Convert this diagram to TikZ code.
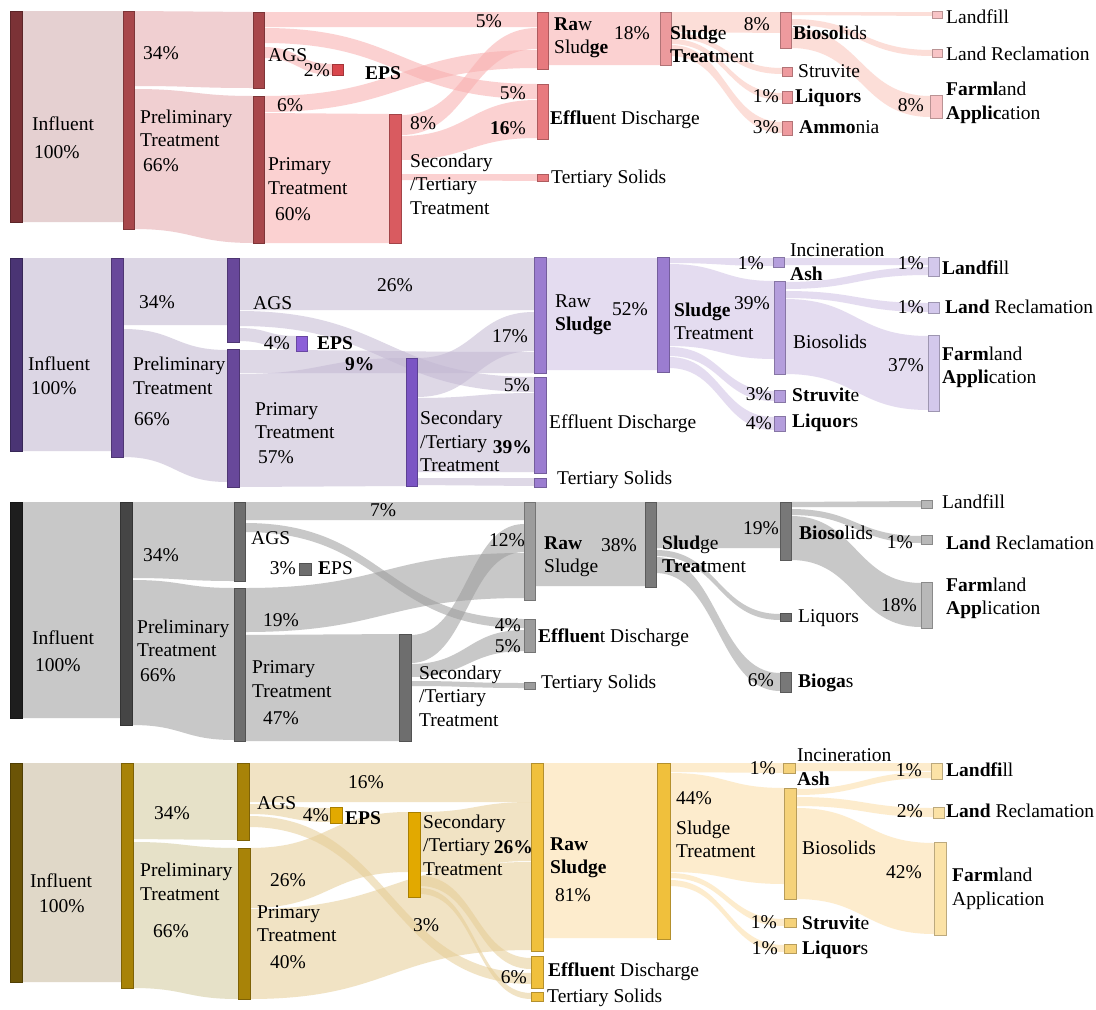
\documentclass[tikz,border=0pt]{standalone}
\usepackage{fontspec}
\setmainfont{Liberation Serif}
\newfontfamily\lserif{Liberation Serif}
\newcommand\fs{\lserif\fontsize{19.5}{23.5}\selectfont}
% red
\definecolor{rInf}{HTML}{7B3236}\definecolor{rPre}{HTML}{A8474B}\definecolor{rSec}{HTML}{D95B60}
\definecolor{rEps}{HTML}{D9464C}\definecolor{rRaw}{HTML}{E87A7E}\definecolor{rST}{HTML}{EC9A9D}
\definecolor{rBio}{HTML}{EE9A9E}\definecolor{rFin}{HTML}{F8C4C6}
\definecolor{rF0}{HTML}{D1AAAC}\definecolor{rF1}{HTML}{E4A8AC}\definecolor{rF2}{HTML}{F9ADAD}\definecolor{rF3}{HTML}{FBC3B8}
% purple
\definecolor{pInf}{HTML}{4A3474}\definecolor{pPre}{HTML}{68489A}\definecolor{pSec}{HTML}{7B55C4}
\definecolor{pEps}{HTML}{8C5FD8}\definecolor{pRaw}{HTML}{9B7DD0}\definecolor{pBio}{HTML}{B49EDC}
\definecolor{pFin}{HTML}{D3C8EC}
\definecolor{pF0}{HTML}{C0B5CF}\definecolor{pF1}{HTML}{C3B8D3}\definecolor{pF2}{HTML}{CFC0E4}
% gray
\definecolor{gInf}{HTML}{1E1E1E}\definecolor{gPre}{HTML}{454545}\definecolor{gMid}{HTML}{6E6E6E}
\definecolor{gRaw}{HTML}{9C9C9C}\definecolor{gST}{HTML}{7A7A7A}\definecolor{gBio}{HTML}{787878}
\definecolor{gFin}{HTML}{B8B8B8}\definecolor{gF}{HTML}{9B9B9B}
% gold
\definecolor{yInf}{HTML}{6B5406}\definecolor{yPre}{HTML}{A88308}\definecolor{ySec}{HTML}{E2A900}
\definecolor{yRaw}{HTML}{F0C03C}\definecolor{yBio}{HTML}{F5D27A}\definecolor{yFin}{HTML}{FBE2A6}
\definecolor{yF0}{HTML}{C7B89B}\definecolor{yF1}{HTML}{D2C99B}\definecolor{yF2}{HTML}{E6CC94}\definecolor{yF3}{HTML}{FCDDA5}

\tikzset{
  fa/.style={fill=#1, fill opacity=0.55},
  sbarst/.style={anchor=north west, inner sep=0pt, outer sep=0pt, line width=0.5pt},
  lb/.style={anchor=west, inner sep=0pt, font=\fs, align=left, text=black},
  rb/.style={anchor=east, inner sep=0pt, font=\fs, align=right, text=black}
}
% flow band: style, x1, y1top, y1bot, x2, y2top, y2bot
\newcommand\sflow[7]{%
  \fill[#1] (#2,#3) .. controls ({(#2+#5)/2},#3) and ({(#2+#5)/2},#6) .. (#5,#6)
    -- (#5,#7) .. controls ({(#2+#5)/2},#7) and ({(#2+#5)/2},#4) .. (#2,#4) -- cycle;}
% bar: name, x1, y1, x2, y2, colour
\newcommand\sbar[6]{\node[sbarst, fill=#6, draw=#6!75!black,
  minimum width={(#4-#2)*1pt}, minimum height={(#5-#3)*1pt}] (#1) at (#2,#3) {};}
\newcommand\lbl[4]{\node[lb] (#1) at (#2,#3) {#4};}
\newcommand\rbl[4]{\node[rb] (#1) at (#2,#3) {#4};}

\begin{document}
\begin{tikzpicture}[x=1pt, y=-1pt]
\fill[white] (0,0) rectangle (1096,1010);
\useasboundingbox (0,0) rectangle (1096,1010);

%================ PANEL 1 (red) ================
\sflow{fa=rF0}{22}{11}{222}{123}{11}{222}
\sflow{fa=rF1}{134}{11}{86}{253}{12}{88}
\sflow{fa=rF1}{134}{89}{229}{253}{96}{243}
\sflow{fa=rF2}{264}{12}{27}{537}{12}{27}
\sflow{fa=rF2}{264}{28}{43}{537}{84}{99}
\sflow{fa=rF2}{264}{47}{58}{332}{64}{75}
\sflow{fa=rF2}{264}{96}{112}{537}{50}{68}
\sflow{fa=rF2}{264}{113}{243}{389}{114}{243}
\sflow{fa=rF2}{401}{115}{135}{537}{28}{49}
\sflow{fa=rF2}{401}{136}{160}{537}{100}{138}
\sflow{fa=rF2}{401}{174}{180}{537}{174}{181}
\sflow{fa=rF2}{548}{12}{65}{660}{12}{65}
\sflow{fa=rF3}{671}{12}{32}{780}{12}{33}
\sflow{fa=rF3}{671}{33}{38}{782}{68}{74}
\sflow{fa=rF3}{671}{39}{44}{782}{93}{100}
\sflow{fa=rF3}{671}{45}{56}{782}{122}{133}
\sflow{fa=rF3}{791}{12}{15}{932}{12}{16}
\sflow{fa=rF3}{791}{19}{25}{932}{50}{56}
\sflow{fa=rF3}{791}{28}{48}{930}{96}{117}

\sbar{rinf}{10}{11}{22}{222}{rInf}
\sbar{rpre}{123}{11}{134}{229}{rPre}
\sbar{rags}{253}{12}{264}{88}{rPre}
\sbar{reps}{332}{64}{343}{75}{rEps}
\sbar{rpri}{253}{96}{264}{243}{rPre}
\sbar{rsec}{389}{114}{401}{243}{rSec}
\sbar{rraw}{537}{12}{548}{69}{rRaw}
\sbar{reff}{537}{84}{548}{139}{rRaw}
\sbar{rter}{537}{174}{548}{181}{rRaw}
\sbar{rst}{660}{12}{671}{65}{rST}
\sbar{rbio}{780}{12}{791}{48}{rBio}
\sbar{rstr}{782}{67}{792}{76}{rBio}
\sbar{rliq}{782}{91}{792}{103}{rBio}
\sbar{ramm}{782}{121}{792}{135}{rBio}
\sbar{rlf}{932}{11}{942}{18}{rFin}
\sbar{rlr}{932}{49}{942}{57}{rFin}
\sbar{rfa}{930}{95}{942}{118}{rFin}

\lbl{ra1}{32}{124}{Influent}
\lbl{ra2}{34}{152}{100\%}
\lbl{ra3}{143}{53}{34\%}
\lbl{ra4}{140}{128.5}{Preliminary\\Treatment}
\lbl{ra5}{143}{165}{66\%}
\lbl{ra6}{268}{55}{AGS}
\rbl{ra7}{330}{70}{2\%}
\lbl{ra8}{365}{73}{\textbf{EPS}}
\lbl{ra9}{277}{105}{6\%}
\lbl{ra10}{268}{176}{Primary\\Treatment}
\lbl{ra11}{275}{214}{60\%}
\lbl{ra12}{410}{123}{8\%}
\lbl{ra13}{410}{184}{Secondary\\/Tertiary\\Treatment}
\rbl{ra14}{502}{21}{5\%}
\rbl{ra15}{526}{93}{5\%}
\rbl{ra16}{526}{128}{\textbf{16}\%}
\lbl{ra17}{554}{38}{\textbf{Ra}w\\Slud\textbf{ge}}
\lbl{ra18}{614}{33}{18\%}
\lbl{ra19}{550}{120}{\textbf{Efflu}ent Discharge}
\lbl{ra20}{551}{179}{Tertiary Solids}
\lbl{ra21}{670}{44.5}{\textbf{Sludg}e\\\textbf{Treat}ment}
\rbl{ra22}{770}{24}{8\%}
\lbl{ra23}{793}{33}{\textbf{Biosol}ids}
\lbl{ra24}{798}{71}{Struvite}
\rbl{ra25}{779}{96}{1\%}
\lbl{ra26}{795}{98}{\textbf{Liquors}}
\rbl{ra27}{779}{127}{3\%}
\lbl{ra28}{799}{127}{\textbf{Ammo}nia}
\lbl{ra29}{946}{17}{Landfill}
\lbl{ra30}{946}{54}{Land Reclamation}
\rbl{ra31}{924}{105}{8\%}
\lbl{ra32}{946}{103}{\textbf{Farml}and\\\textbf{Applic}ation}

%================ PANEL 2 (purple) ================
\sflow{fa=pF0}{22}{258}{451}{111}{258}{451}
\sflow{fa=pF0}{123}{258}{325}{227}{258}{325}
\sflow{fa=pF0}{123}{329}{457}{227}{350}{482}
\sflow{fa=pF1}{239}{258}{310}{534}{258}{310}
\sflow{fa=pF1}{239}{311}{326}{534}{377}{392}
\sflow{fa=pF1}{239}{328}{341}{296}{336}{350}
\sflow{fa=pF1}{239}{350}{373}{534}{352}{373}
\sflow{fa=pF1}{239}{374}{487}{406}{358}{486}
\sflow{fa=pF1}{417}{358}{397}{534}{312}{351}
\sflow{fa=pF1}{417}{398}{472}{534}{393}{472}
\sflow{fa=pF1}{417}{478}{485}{534}{478}{486}
\sflow{fa=pF2}{546}{258}{370}{657}{258}{370}
\sflow{fa=pF2}{669}{258}{263}{773}{258}{266}
\sflow{fa=pF2}{669}{264}{346}{774}{281}{359}
\sflow{fa=pF2}{669}{347}{356}{774}{391}{401}
\sflow{fa=pF2}{669}{357}{368}{774}{417}{430}
\sflow{fa=pF2}{784}{258}{265}{928}{258}{265}
\sflow{fa=pF2}{785}{282}{289}{928}{267}{275}
\sflow{fa=pF2}{785}{291}{298}{928}{303}{312}
\sflow{fa=pF2}{785}{299}{374}{928}{336}{410}

\sbar{pinf}{10}{258}{22}{451}{pInf}
\sbar{ppre}{111}{258}{123}{457}{pPre}
\sbar{pags}{227}{258}{239}{342}{pPre}
\sbar{peps}{296}{336}{307}{351}{pEps}
\sbar{ppri}{227}{349}{239}{487}{pPre}
\sbar{psec}{406}{358}{417}{486}{pSec}
\sbar{praw}{534}{257}{546}{373}{pRaw}
\sbar{peff}{534}{377}{546}{473}{pRaw}
\sbar{pter}{534}{478}{546}{487}{pRaw}
\sbar{pst}{657}{257}{669}{372}{pRaw}
\sbar{pia}{773}{257}{784}{267}{pBio}
\sbar{pbio}{774}{281}{785}{374}{pBio}
\sbar{pstr}{774}{390}{785}{402}{pBio}
\sbar{pliq}{774}{416}{785}{431}{pBio}
\sbar{plf}{928}{257}{939}{276}{pFin}
\sbar{plr}{928}{302}{939}{313}{pFin}
\sbar{pfa}{928}{335}{939}{411}{pFin}

\lbl{pa1}{28}{364}{Influent}
\lbl{pa2}{31}{388}{100\%}
\lbl{pa3}{139}{302}{34\%}
\lbl{pa4}{133}{376}{Preliminary\\Treatment}
\lbl{pa5}{134}{419}{66\%}
\lbl{pa6}{253}{303}{AGS}
\lbl{pa7}{377}{285}{26\%}
\rbl{pa8}{290}{343}{4\%}
\lbl{pa9}{317}{343}{\textbf{EPS}}
\lbl{pa10}{345}{364}{\textbf{9\%}}
\lbl{pa11}{255}{420.5}{Primary\\Treatment}
\lbl{pa12}{258}{457}{57\%}
\rbl{pa13}{528}{336}{17\%}
\rbl{pa14}{530}{385}{5\%}
\lbl{pa15}{420}{441.5}{Secondary\\/Tertiary\\Treatment}
\rbl{pa16}{532}{447}{\textbf{39\%}}
\lbl{pa17}{555}{315}{Raw\\\textbf{Sludge}}
\lbl{pa18}{612}{309}{52\%}
\lbl{pa19}{549}{424}{Effluent Discharge}
\lbl{pa20}{557}{480}{Tertiary Solids}
\lbl{pa21}{674}{321.5}{\textbf{Sludge}\\Treatment}
\rbl{pa22}{770}{303}{39\%}
\rbl{pa23}{764}{263}{1\%}
\lbl{pa24}{790}{250}{Incineration}
\lbl{pa25}{790}{274}{\textbf{Ash}}
\lbl{pa26}{793}{342}{Biosolids}
\rbl{pa27}{772}{394}{3\%}
\lbl{pa28}{792}{395}{\textbf{Struvit}e}
\rbl{pa29}{772}{423}{4\%}
\lbl{pa30}{792}{423}{\textbf{Liquor}s}
\rbl{pa31}{924}{263}{1\%}
\lbl{pa32}{942}{268}{\textbf{Landfi}ll}
\rbl{pa33}{924}{307}{1\%}
\lbl{pa34}{945}{307}{\textbf{Land} Reclamation}
\rbl{pa35}{924}{365}{37\%}
\lbl{pa36}{942}{367.5}{\textbf{Farm}land\\\textbf{Appli}cation}

%================ PANEL 3 (gray) ================
\sflow{fa=gF}{22}{502}{718}{120}{502}{718}
\sflow{fa=gF}{132}{502}{578}{234}{502}{581}
\sflow{fa=gF}{132}{580}{725}{234}{588}{740}
\sflow{fa=gF}{245}{502}{520}{524}{502}{520}
\sflow{fa=gF}{245}{523}{532}{524}{619}{628}
\sflow{fa=gF}{245}{588}{632}{524}{553}{598}
\sflow{fa=gF}{245}{635}{741}{399}{634}{741}
\sflow{fa=gF}{411}{635}{663}{524}{524}{552}
\sflow{fa=gF}{411}{664}{677}{524}{630}{651}
\sflow{fa=gF}{411}{681}{686}{524}{683}{688}
\sflow{fa=gF}{535}{502}{586}{645}{502}{586}
\sflow{fa=gF}{656}{502}{548}{780}{502}{548}
\sflow{fa=gF}{656}{550}{556}{780}{614}{620}
\sflow{fa=gF}{656}{557}{573}{780}{673}{691}
\sflow{fa=gF}{791}{502}{507}{921}{501}{507}
\sflow{fa=gF}{791}{509}{515}{921}{536}{543}
\sflow{fa=gF}{791}{516}{560}{921}{583}{627}

\sbar{ginf}{10}{502}{22}{718}{gInf}
\sbar{gpre}{120}{502}{132}{725}{gPre}
\sbar{gags}{234}{502}{245}{581}{gMid}
\sbar{geps}{299}{563}{311}{575}{gMid}
\sbar{gpri}{234}{588}{245}{741}{gMid}
\sbar{gsec}{399}{634}{411}{741}{gMid}
\sbar{graw}{524}{502}{535}{600}{gRaw}
\sbar{geff}{524}{619}{535}{652}{gRaw}
\sbar{gter}{524}{682}{535}{689}{gRaw}
\sbar{gst}{645}{502}{656}{587}{gST}
\sbar{gbio}{780}{502}{791}{560}{gBio}
\sbar{gliq}{780}{613}{791}{621}{gMid}
\sbar{gbg}{780}{672}{791}{692}{gBio}
\sbar{glf}{921}{500}{932}{508}{gFin}
\sbar{glr}{921}{535}{932}{544}{gFin}
\sbar{gfa}{921}{582}{932}{628}{gFin}

\lbl{ga1}{32}{638}{Influent}
\lbl{ga2}{35}{665}{100\%}
\lbl{ga3}{143}{555}{34\%}
\lbl{ga4}{137}{638.5}{Preliminary\\Treatment}
\lbl{ga5}{140}{675}{66\%}
\lbl{ga6}{251}{538}{AGS}
\rbl{ga7}{296}{568}{3\%}
\lbl{ga8}{318}{568}{\textbf{E}PS}
\lbl{ga9}{263}{620}{19\%}
\lbl{ga10}{252}{679}{Primary\\Treatment}
\lbl{ga11}{263}{718}{47\%}
\lbl{ga12}{370}{510}{7\%}
\rbl{ga13}{525}{540}{12\%}
\rbl{ga14}{521}{625}{4\%}
\rbl{ga15}{521}{646}{5\%}
\lbl{ga16}{419}{696}{Secondary\\/Tertiary\\Treatment}
\lbl{ga17}{544}{556.5}{\textbf{Raw}\\Sludge}
\lbl{ga18}{601}{545}{38\%}
\lbl{ga19}{538}{638}{\textbf{Effluen}t Discharge}
\lbl{ga20}{541}{684}{Tertiary Solids}
\lbl{ga21}{662}{554.5}{\textbf{Slud}ge\\\textbf{Treat}ment}
\rbl{ga22}{779}{528}{19\%}
\lbl{ga23}{799}{533}{\textbf{Bioso}lids}
\lbl{ga24}{798}{618}{Liquors}
\rbl{ga25}{774}{680}{6\%}
\lbl{ga26}{798}{683}{\textbf{Bioga}s}
\lbl{ga27}{942}{502}{Landfill}
\rbl{ga28}{913}{542}{1\%}
\lbl{ga29}{946}{543}{\textbf{Land} Reclamation}
\rbl{ga30}{917}{605}{18\%}
\lbl{ga31}{946}{598.5}{\textbf{Farm}land\\\textbf{App}lication}

%================ PANEL 4 (gold) ================
\sflow{fa=yF0}{22}{763}{982}{121}{763}{982}
\sflow{fa=yF1}{133}{763}{839}{237}{763}{840}
\sflow{fa=yF1}{133}{842}{988}{238}{848}{999}
\sflow{fa=yF2}{249}{763}{802}{531}{763}{802}
\sflow{fa=yF2}{249}{804}{814}{330}{808}{822}
\sflow{fa=yF2}{249}{816}{827}{531}{973}{984}
\sflow{fa=yF2}{250}{848}{908}{408}{812}{872}
\sflow{fa=yF2}{250}{909}{999}{531}{862}{950}
\sflow{fa=yF2}{420}{812}{872}{531}{802}{861}
\sflow{fa=yF2}{420}{876}{886}{531}{958}{969}
\sflow{fa=yF2}{420}{888}{894}{531}{993}{999}
\sflow{fa=yF3}{543}{763}{938}{657}{763}{938}
\sflow{fa=yF3}{670}{763}{772}{783}{763}{773}
\sflow{fa=yF3}{670}{773}{872}{784}{788}{884}
\sflow{fa=yF3}{670}{873}{878}{784}{919}{926}
\sflow{fa=yF3}{670}{880}{886}{784}{945}{952}
\sflow{fa=yF3}{795}{763}{771}{931}{763}{771}
\sflow{fa=yF3}{796}{789}{795}{931}{772}{778}
\sflow{fa=yF3}{796}{797}{806}{933}{808}{817}
\sflow{fa=yF3}{796}{808}{899}{934}{843}{934}

\sbar{yinf}{10}{763}{22}{982}{yInf}
\sbar{ypre}{121}{763}{133}{988}{yPre}
\sbar{yags}{237}{763}{249}{840}{yPre}
\sbar{yeps}{330}{807}{342}{823}{ySec}
\sbar{ypri}{238}{848}{250}{999}{yPre}
\sbar{ysec}{408}{812}{420}{897}{ySec}
\sbar{yraw}{531}{763}{543}{951}{yRaw}
\sbar{yeff}{531}{956}{543}{988}{yRaw}
\sbar{yter}{531}{992}{543}{1001}{yRaw}
\sbar{yst}{657}{763}{670}{939}{yRaw}
\sbar{yia}{783}{763}{795}{773}{yBio}
\sbar{ybio}{784}{788}{796}{899}{yBio}
\sbar{ystr}{784}{918}{796}{927}{yBio}
\sbar{yliq}{784}{944}{796}{953}{yBio}
\sbar{ylf}{931}{763}{942}{779}{yFin}
\sbar{ylr}{933}{807}{944}{818}{yFin}
\sbar{yfa}{934}{842}{946}{935}{yFin}

\lbl{ya1}{30}{881}{Influent}
\lbl{ya2}{39}{906}{100\%}
\lbl{ya3}{154}{813}{34\%}
\lbl{ya4}{140}{882}{Preliminary\\Treatment}
\lbl{ya5}{153}{931}{66\%}
\lbl{ya6}{257}{803}{AGS}
\rbl{ya7}{329}{815}{4\%}
\lbl{ya8}{345}{818}{\textbf{EPS}}
\lbl{ya9}{348}{782}{16\%}
\lbl{ya10}{270}{880}{26\%}
\lbl{ya11}{257}{923.5}{Primary\\Treatment}
\lbl{ya12}{270}{962}{40\%}
\lbl{ya13}{423}{845}{Secondary\\/Tertiary\\Treatment}
\rbl{ya14}{533}{847}{\textbf{26\%}}
\lbl{ya15}{413}{925}{3\%}
\lbl{ya16}{550}{858}{\textbf{Raw}\\\textbf{Sludge}}
\lbl{ya17}{555}{895}{81\%}
\rbl{ya18}{527}{977}{6\%}
\lbl{ya19}{548}{972}{\textbf{Effluen}t Discharge}
\lbl{ya20}{547}{998}{Tertiary Solids}
\lbl{ya21}{676}{798}{44\%}
\lbl{ya22}{676}{839.5}{Sludge\\Treatment}
\rbl{ya23}{776}{768}{1\%}
\lbl{ya24}{797}{755}{Incineration}
\lbl{ya25}{797}{779}{\textbf{Ash}}
\lbl{ya26}{802}{848}{Biosolids}
\rbl{ya27}{922}{872}{42\%}
\rbl{ya28}{922}{770}{1\%}
\lbl{ya29}{946}{770}{\textbf{Landfi}ll}
\rbl{ya30}{923}{811}{2\%}
\lbl{ya31}{946}{811}{\textbf{Land} Reclamation}
\lbl{ya32}{952}{889}{\textbf{Farm}land\\Application}
\rbl{ya33}{777}{922}{1\%}
\lbl{ya34}{802}{923}{\textbf{Struvit}e}
\rbl{ya35}{778}{948}{1\%}
\lbl{ya36}{802}{950}{\textbf{Liquor}s}
\end{tikzpicture}
\end{document}
